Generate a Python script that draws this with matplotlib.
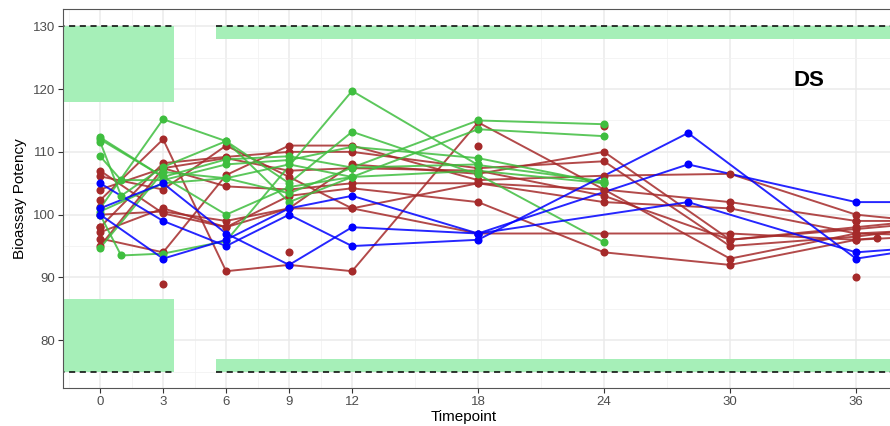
import matplotlib
matplotlib.use("Agg")
import matplotlib.pyplot as plt
import numpy as np

plt.rcParams.update({
    "font.family": ["Liberation Sans", "DejaVu Sans"],
    "axes.edgecolor": "#555555",
    "axes.linewidth": 0.8,
})

# ── Data ──────────────────────────────────────────────────────────────────────
NA = np.nan
TIMES = [0, 1, 3, 6, 9, 12, 18, 24, 28, 30, 36, 37, 42]
X_TICKS = [0, 3, 6, 9, 12, 18, 24, 30, 36]
Y_TICKS = [80, 90, 100, 110, 120, 130]

#            0     1     3      6      9      12     18     24     28     30     36     37    42
BLUE = [
    [105.0, NA, 99.0, 95.0, 100.0, 95.0, 96.0, NA, 113.0, NA, 93.0, NA, 96.0],
    [101.0, NA, 105.0, 97.0, 92.0, 98.0, 97.0, NA, 108.0, NA, 102.0, NA, 102.0],
    [100.0, NA, 93.0, 96.0, 101.0, 103.0, 97.0, NA, 102.0, NA, 94.0, NA, 95.5],
]

GREEN = [
    [112.3, NA, 106.0, 108.8, 109.3, 107.5, 115.0, 114.4, NA, NA, NA, NA, NA],
    [111.6, 103.0, 107.6, 111.7, 105.0, 113.2, 106.4, 95.6, NA, NA, NA, NA, NA],
    [109.3, 105.5, 105.5, 108.0, 108.7, 110.8, 109.0, 105.0, NA, NA, NA, NA, NA],
    [101.0, NA, 115.2, 111.7, 102.0, 106.0, 113.6, 112.5, NA, NA, NA, NA, NA],
    [100.0, 93.5, 93.8, 95.8, NA, 119.7, 107.9, 105.3, NA, NA, NA, NA, NA],
    [94.7, NA, 106.8, 105.8, 103.4, 107.5, 108.0, NA, NA, NA, NA, NA, NA],
    [112.0, NA, 106.0, 100.0, 104.4, 106.0, NA, NA, NA, NA, NA, NA, NA],
    [100.5, NA, 105.0, 105.8, 108.0, 106.0, 107.0, 105.0, NA, NA, NA, NA, NA],
]

RED = [
    [102.3, NA, 112.0, 91.0, 92.0, 91.0, 114.7, 104.0, NA, 93.0, 97.0, NA, 98.0],
    [100.0, NA, 100.5, 99.0, 101.0, 108.0, 106.5, 110.0, NA, 96.0, 97.7, NA, 99.5],
    [98.0, NA, 108.2, 109.2, 110.0, 110.0, 107.4, 108.5, NA, 95.0, 96.5, NA, 99.0],
    [96.2, NA, 94.0, 106.3, 111.0, 111.0, 105.5, 106.2, NA, 106.5, 100.0, NA, 98.0],
    [104.0, NA, 107.4, 104.5, 104.0, 105.0, 105.0, 104.0, NA, 102.0, 99.0, NA, 99.0],
    [95.0, NA, 107.4, 109.0, 107.0, 107.4, 107.0, 103.0, NA, 96.0, 98.0, NA, 100.0],
    [97.2, NA, 101.0, 98.0, 103.0, 104.2, 102.0, 94.0, NA, 92.0, 96.0, NA, 97.0],
    [107.0, NA, 100.2, 98.0, 101.0, 101.0, 97.0, 97.0, NA, 97.0, 96.0, 96.3, NA],
    [106.1, NA, 104.0, 111.0, 106.0, 101.0, 105.0, 102.0, NA, 101.0, 97.0, NA, 96.5],
]

# single observations (no line)
RED_PTS_T = [3, 0, 9, 18, 24, 36, 36, 30, 0]
RED_PTS_V = [89.0, 101.2, 94.0, 111.0, 114.1, 90.0, 99.0, 101.0, 98.0]

# acceptance bands
BAND_LEFT_T = [-3, 3.5]
BAND_RIGHT_T = [5.5, 45]
BAND_LEFT_TOP = [118, 130]
BAND_LEFT_BOT = [75, 86.5]
BAND_RIGHT_TOP = [128, 130]
BAND_RIGHT_BOT = [75, 77]
LIMITS = [75, 130]

COLOR_BLUE = "#0000FF"
COLOR_GREEN = "#3FBE3F"
COLOR_RED = "#A52A2A"
COLOR_BAND = "#A6EFB8"


def draw_group(ax, rows, color):
    t = np.array(TIMES, dtype=float)
    for row in rows:
        v = np.array(row, dtype=float)
        m = ~np.isnan(v)
        ax.plot(t[m], v[m], color=color, lw=1.4, alpha=0.85, zorder=3,
                solid_capstyle="round")


def draw_points(ax, rows, color):
    t = np.array(TIMES, dtype=float)
    for row in rows:
        v = np.array(row, dtype=float)
        m = ~np.isnan(v)
        ax.plot(t[m], v[m], "o", color=color, ms=5.8, mew=0, zorder=4)


fig = plt.figure(figsize=(8.9, 4.26), dpi=100)
ax = fig.add_axes([0.0705, 0.0892, 0.9295, 0.889])

# bands
for y0, y1 in [BAND_LEFT_TOP, BAND_LEFT_BOT]:
    ax.fill_between(BAND_LEFT_T, y0, y1, color=COLOR_BAND, lw=0, zorder=1)
for y0, y1 in [BAND_RIGHT_TOP, BAND_RIGHT_BOT]:
    ax.fill_between(BAND_RIGHT_T, y0, y1, color=COLOR_BAND, lw=0, zorder=1)
for y in LIMITS:
    ax.plot(BAND_LEFT_T, [y, y], ls=(0, (4, 3)), color="black", lw=1.1, zorder=2)
    ax.plot(BAND_RIGHT_T, [y, y], ls=(0, (4, 3)), color="black", lw=1.1, zorder=2)

draw_group(ax, RED, COLOR_RED)
draw_group(ax, GREEN, COLOR_GREEN)
draw_group(ax, BLUE, COLOR_BLUE)
draw_points(ax, RED, COLOR_RED)
ax.plot(RED_PTS_T, RED_PTS_V, "o", color=COLOR_RED, ms=5.8, mew=0, zorder=4)
draw_points(ax, GREEN, COLOR_GREEN)
draw_points(ax, BLUE, COLOR_BLUE)

ax.text(33.76, 121.4, "DS", fontsize=16, fontweight="bold", ha="center",
        va="center", color="black", zorder=5)

ax.set_xlim(-1.78, 37.62)
ax.set_ylim(72.4, 132.7)
ax.set_xticks(X_TICKS)
ax.set_yticks(Y_TICKS)
ax.set_xticks([-1.5, 1.5, 4.5, 7.5, 10.5, 15, 21, 27, 33], minor=True)
ax.set_yticks([75, 85, 95, 105, 115, 125], minor=True)
ax.grid(True, which="major", color="#EBEBEB", lw=1.1, zorder=0)
ax.grid(True, which="minor", color="#F2F2F2", lw=0.6, zorder=0)
ax.set_axisbelow(True)
ax.tick_params(which="major", length=3.5, width=0.8, color="#333333",
               labelsize=9.5, labelcolor="#4D4D4D", pad=2)
ax.tick_params(which="minor", length=0)
ax.spines["right"].set_visible(False)

ax.set_xlabel("Timepoint", fontsize=11, color="black", va="top")
ax.set_ylabel("Bioassay Potency", fontsize=11, color="black", labelpad=4)
ax.xaxis.set_label_coords(0.485, -0.058)

fig.savefig("out.png", dpi=100)
